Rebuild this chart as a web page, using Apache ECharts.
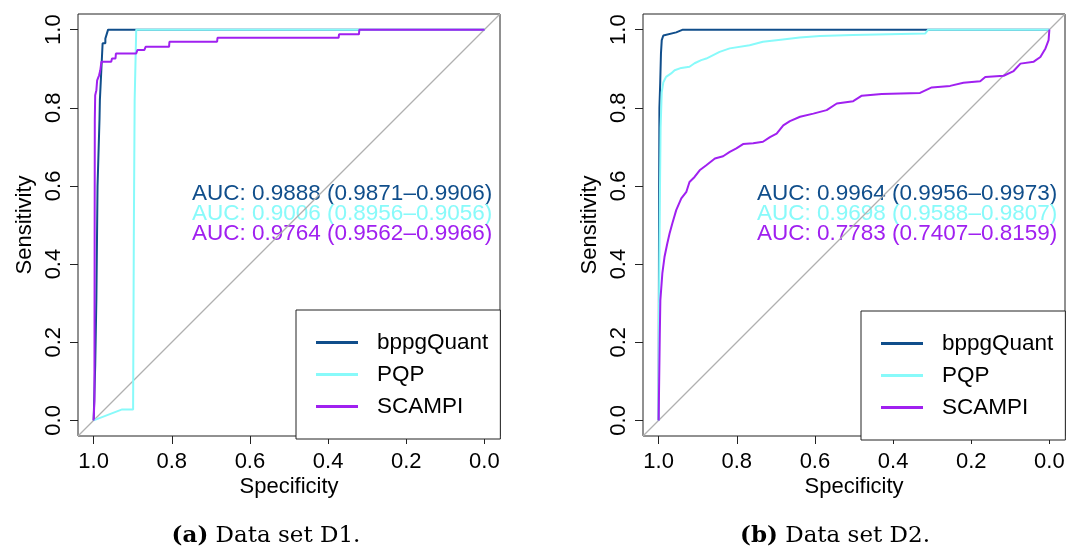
<!DOCTYPE html>
<html><head><meta charset="utf-8">
<script src="https://cdn.jsdelivr.net/npm/echarts@6/dist/echarts.min.js"></script>
<style>html,body{margin:0;padding:0;background:#fff}#c{width:1066px;height:548px}</style>
</head><body><div id="c"></div>
<script>
// ---- data ----
const seriesNames = ['bppgQuant', 'PQP', 'SCAMPI'];
const seriesColors = ['#104E8B', '#88FAFA', '#A020F0'];
const tickValues = [0, 0.2, 0.4, 0.6, 0.8, 1.0];
const diagSpec = [1.04, -0.04];
const diagSens = [-0.04, 1.04];

// Data set D1
const d1BppgSpec = [1.0, 0.996, 0.993, 0.990, 0.985, 0.984, 0.977, 0.970, 0.970, 0.966, 0.963, 0.0];
const d1BppgSens = [0.0, 0.14, 0.31, 0.60, 0.77, 0.82, 0.965, 0.965, 0.977, 0.977, 1.0, 1.0];
const d1PqpSpec = [1.0, 0.927, 0.899, 0.897, 0.895, 0.891, 0.0];
const d1PqpSens = [0.0, 0.028, 0.028, 0.5, 0.82, 1.0, 1.0];
const d1ScampiSpec = [1.0, 0.998, 0.997, 0.996, 0.993, 0.991, 0.986, 0.983, 0.980, 0.955, 0.953, 0.944, 0.943, 0.891, 0.888, 0.870, 0.867, 0.807, 0.806, 0.684, 0.683, 0.373, 0.372, 0.321, 0.320, 0.0];
const d1ScampiSens = [0.0, 0.05, 0.77, 0.832, 0.845, 0.87, 0.883, 0.896, 0.918, 0.918, 0.926, 0.926, 0.939, 0.939, 0.948, 0.948, 0.956, 0.956, 0.969, 0.969, 0.979, 0.979, 0.988, 0.988, 1.0, 1.0];
const d1AucLabels = ['AUC: 0.9888 (0.9871\u20130.9906)', 'AUC: 0.9006 (0.8956\u20130.9056)', 'AUC: 0.9764 (0.9562\u20130.9966)'];

// Data set D2
const d2BppgSpec = [1.0, 0.999, 0.998, 0.996, 0.994, 0.992, 0.988, 0.985, 0.955, 0.951, 0.938, 0.0];
const d2BppgSens = [0.0, 0.5, 0.8, 0.862, 0.94, 0.973, 0.985, 0.99, 0.993, 0.998, 1.0, 1.0];
const d2PqpSpec = [1.0, 0.999, 0.997, 0.995, 0.992, 0.988, 0.985, 0.981, 0.968, 0.959, 0.942, 0.921, 0.908, 0.891, 0.878, 0.844, 0.818, 0.767, 0.733, 0.682, 0.639, 0.587, 0.503, 0.500, 0.318, 0.310, 0.0];
const d2PqpSens = [0.0, 0.3, 0.55, 0.75, 0.84, 0.865, 0.871, 0.879, 0.888, 0.896, 0.902, 0.905, 0.914, 0.922, 0.926, 0.943, 0.952, 0.96, 0.969, 0.975, 0.98, 0.984, 0.986, 0.990, 0.990, 1.0, 1.0];
const d2ScampiSpec = [1.0, 0.997, 0.9956, 0.9905, 0.985, 0.978, 0.972, 0.965, 0.955, 0.942, 0.929, 0.921, 0.908, 0.895, 0.878, 0.856, 0.835, 0.818, 0.801, 0.784, 0.758, 0.733, 0.715, 0.698, 0.681, 0.664, 0.638, 0.604, 0.570, 0.544, 0.502, 0.480, 0.429, 0.331, 0.301, 0.254, 0.220, 0.177, 0.164, 0.117, 0.0915, 0.074, 0.040, 0.023, 0.010, 0.002, 0.0];
const d2ScampiSens = [0.0, 0.222, 0.307, 0.376, 0.418, 0.452, 0.478, 0.504, 0.538, 0.568, 0.585, 0.610, 0.623, 0.640, 0.653, 0.670, 0.676, 0.687, 0.696, 0.707, 0.709, 0.713, 0.725, 0.734, 0.755, 0.766, 0.777, 0.785, 0.794, 0.811, 0.817, 0.831, 0.835, 0.838, 0.852, 0.856, 0.864, 0.868, 0.879, 0.882, 0.894, 0.913, 0.918, 0.930, 0.952, 0.973, 1.0];
const d2AucLabels = ['AUC: 0.9964 (0.9956\u20130.9973)', 'AUC: 0.9698 (0.9588\u20130.9807)', 'AUC: 0.7783 (0.7407\u20130.8159)'];

const captions = [['(a)', ' Data set D1.'], ['(b)', ' Data set D2.']];

// ---- build ----
const zip = (a, b) => a.map((v, i) => [v, b[i]]);
const SANS = 'Liberation Sans, Arial, Helvetica, sans-serif';
const SERIF = 'DejaVu Serif, serif';
const panels = [
  { left: 78, legendLeft: 296, legendTop: 310, aucX: 192, capX: 266,
    curves: [[d1BppgSpec, d1BppgSens], [d1PqpSpec, d1PqpSens], [d1ScampiSpec, d1ScampiSens]], auc: d1AucLabels },
  { left: 643, legendLeft: 861, legendTop: 311, aucX: 757, capX: 835,
    curves: [[d2BppgSpec, d2BppgSens], [d2PqpSpec, d2PqpSens], [d2ScampiSpec, d2ScampiSens]], auc: d2AucLabels }
];

const grid = [], xAxis = [], yAxis = [], series = [], legend = [], graphic = [];
panels.forEach((p, gi) => {
  grid.push({ left: p.left, top: 14, width: 422, height: 422, show: true,
    borderColor: '#222', borderWidth: 1, backgroundColor: 'transparent', containLabel: false, outerBoundsMode: 'none' });
  xAxis.push({ type: 'value', gridIndex: gi, min: -0.04, max: 1.04, inverse: true,
    axisLine: { show: false, onZero: false }, splitLine: { show: false },
    axisTick: { show: true, length: 8, inside: false, customValues: tickValues, lineStyle: { color: '#222', width: 1 } },
    axisLabel: { customValues: tickValues, formatter: v => v.toFixed(1), margin: 15,
      fontSize: 22, color: '#000', fontFamily: SANS },
    name: 'Specificity', nameLocation: 'middle', nameGap: 40, nameMoveOverlap: false,
    nameTextStyle: { fontSize: 22, color: '#000', fontFamily: SANS } });
  yAxis.push({ type: 'value', gridIndex: gi, min: -0.04, max: 1.04,
    axisLine: { show: false, onZero: false }, splitLine: { show: false },
    axisTick: { show: true, length: 8, inside: false, customValues: tickValues, lineStyle: { color: '#222', width: 1 } },
    axisLabel: { customValues: tickValues, formatter: v => v.toFixed(1), margin: 13, rotate: 90,
      fontSize: 22, color: '#000', fontFamily: SANS },
    name: 'Sensitivity', nameLocation: 'middle', nameGap: 42, nameMoveOverlap: false,
    nameTextStyle: { fontSize: 22, color: '#000', fontFamily: SANS } });
  series.push({ type: 'line', name: '_diag', xAxisIndex: gi, yAxisIndex: gi, data: zip(diagSpec, diagSens),
    symbol: 'none', silent: true, lineStyle: { color: '#B0B0B0', width: 1.2 }, itemStyle: { color: '#B0B0B0' }, z: 1 });
  p.curves.forEach((c, si) => {
    series.push({ type: 'line', name: seriesNames[si], xAxisIndex: gi, yAxisIndex: gi, data: zip(c[0], c[1]),
      symbol: 'none', showSymbol: false, color: seriesColors[si],
      lineStyle: { color: seriesColors[si], width: 2 }, itemStyle: { color: seriesColors[si] }, z: 2 + si });
  });
  legend.push({ data: seriesNames, left: p.legendLeft, top: p.legendTop, orient: 'vertical',
    itemWidth: 42, itemHeight: 3, icon: 'rect', itemGap: 9, selectedMode: false,
    padding: [21, 12, 21, 20], borderColor: '#222', borderWidth: 1, borderRadius: 0, backgroundColor: '#fff',
    textStyle: { fontSize: 22.5, fontFamily: SANS, color: '#000', lineHeight: 22, padding: [0, 0, 0, 14] } });
  p.auc.forEach((t, i) => {
    graphic.push({ type: 'text', x: p.aucX, y: 194 + 20 * i, z: 0, silent: true,
      style: { text: t, fill: seriesColors[i], font: '22.5px ' + SANS,
        align: 'left', verticalAlign: 'middle', textAlign: 'left', textVerticalAlign: 'middle' } });
  });
  graphic.push({ type: 'text', x: p.capX, y: 536, silent: true,
    style: { text: '{b|' + captions[gi][0] + '}{n|' + captions[gi][1] + '}',
      rich: { b: { fontWeight: 'bold', fontFamily: SERIF, fontSize: 23, fill: '#000', color: '#000' },
              n: { fontFamily: SERIF, fontSize: 23, fill: '#000', color: '#000' } },
      font: '23px ' + SERIF, fill: '#000',
      align: 'center', verticalAlign: 'middle', textAlign: 'center', textVerticalAlign: 'middle' } });
});

const chart = echarts.init(document.getElementById('c'), null, { renderer: 'canvas' });
chart.setOption({ animation: false, backgroundColor: '#fff', grid, xAxis, yAxis, series, legend, graphic,
  tooltip: { show: false } });
</script></body></html>
